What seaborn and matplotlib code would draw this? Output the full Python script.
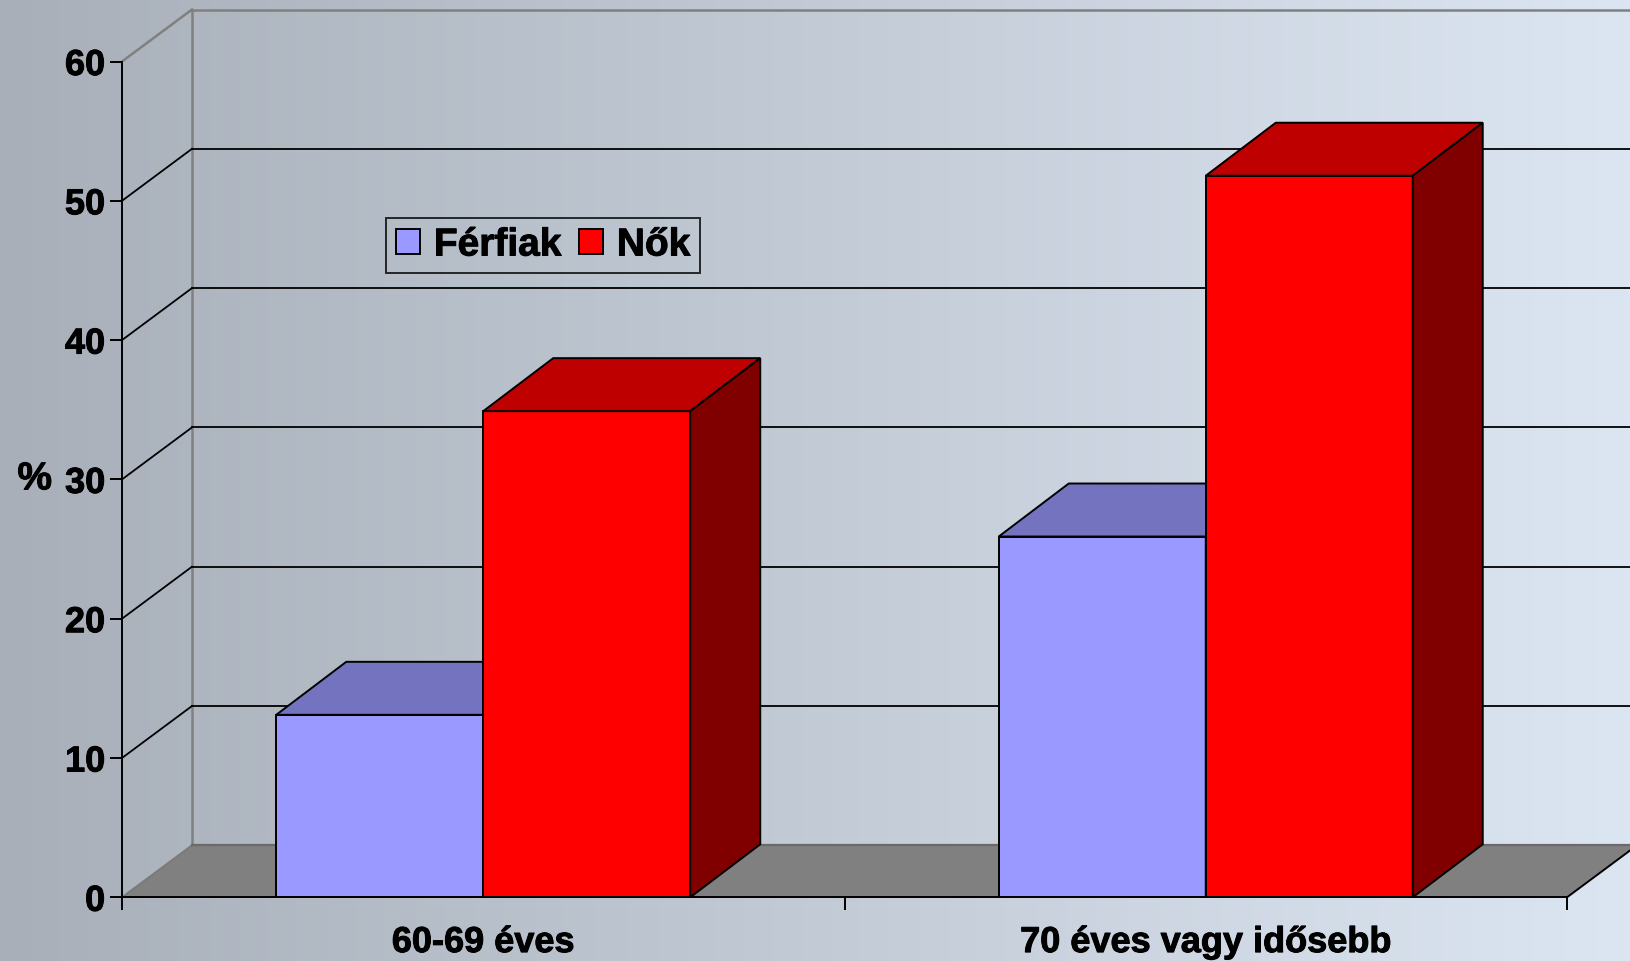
import numpy as np
import pandas as pd
import matplotlib
matplotlib.use("Agg")
import matplotlib.pyplot as plt
from matplotlib.patches import Polygon, Patch
from matplotlib.lines import Line2D
import matplotlib.colors as mcolors
import matplotlib.patheffects as pe
import seaborn as sns

# ---- data ----
categories = ["60-69 éves", "70 éves vagy idősebb"]
series = ["Férfiak", "Nők"]
ferfiak = [13.1, 25.9]
nok = [34.9, 51.8]
yticks = [0, 10, 20, 30, 40, 50, 60]

colors = {"Férfiak": "#9999FF", "Nők": "#FF0000"}

df = pd.DataFrame({
    "Korcsoport": categories * 2,
    "Nem": [series[0]] * len(categories) + [series[1]] * len(categories),
    "Érték": ferfiak + nok,
})

plt.rcParams["font.family"] = ["Liberation Sans", "DejaVu Sans"]
plt.rcParams["font.weight"] = "bold"
heavy = [pe.withStroke(linewidth=0.7, foreground="black")]

W_PX, H_PX = 1630, 962
fig = plt.figure(figsize=(W_PX / 100, H_PX / 100), dpi=100)

# background gradient
bg = fig.add_axes([0, 0, 1, 1], zorder=-10)
c0 = np.array(mcolors.to_rgb("#A8AFB9"))
c1 = np.array(mcolors.to_rgb("#DCE6F2"))
t = np.linspace(0, 1, 512)[None, :, None]
grad = c0 + (c1 - c0) * t
bg.imshow(np.repeat(grad, 2, axis=0), aspect="auto", extent=[0, 1, 0, 1])
bg.set_axis_off()

# main axes (front plane)
x_left, x_right = 122, 1567
y_bot, y_top = 898.3, 62.5
ax = fig.add_axes([x_left / W_PX, (H_PX - y_bot) / H_PX,
                   (x_right - x_left) / W_PX, (y_bot - y_top) / H_PX])
ax.patch.set_alpha(0)

sns.barplot(data=df, x="Korcsoport", y="Érték", hue="Nem", palette=colors,
            width=0.573, saturation=1, edgecolor="black", linewidth=1.4,
            errorbar=None, legend=False, ax=ax)
ax.set_xlim(-0.5, 1.5)
ax.set_ylim(0, 60)

# pixel -> data conversions
px_per_x = (x_right - x_left) / 2.0
px_per_y = (y_bot - y_top) / 60.0
wdx, wdy = 70 / px_per_x, 52 / px_per_y   # wall/floor depth
bdx, bdy = 70 / px_per_x, 53 / px_per_y   # bar depth

X0, X1 = ax.get_xlim()
gray = "#808080"

# floor
ax.add_patch(Polygon([(X0, 0), (X1, 0), (X1 + wdx, wdy), (X0 + wdx, wdy)],
                     closed=True, facecolor=gray, edgecolor="none",
                     zorder=1, clip_on=False))
ax.add_line(Line2D([X0, X0 + wdx], [0, wdy], color="#7a7a7a", lw=1.4, zorder=1.2, clip_on=False))
ax.add_line(Line2D([X0 + wdx, X1 + wdx], [wdy, wdy], color="#6a6a6a", lw=1.6, zorder=1.2, clip_on=False))
ax.add_line(Line2D([X1, X1 + wdx], [0, wdy], color="black", lw=1.4, zorder=1.2, clip_on=False))

# back wall & side wall grid
ax.add_line(Line2D([X0 + wdx, X0 + wdx], [wdy, 60 + wdy], color=gray, lw=1.8, zorder=1.1, clip_on=False))
for v in yticks[1:]:
    col = gray if v == 60 else "black"
    lw = 1.8 if v == 60 else 1.3
    ax.add_line(Line2D([X0 + wdx, X1 + wdx], [v + wdy, v + wdy], color=col, lw=lw,
                       zorder=1.1, clip_on=False))
    ax.add_line(Line2D([X0, X0 + wdx], [v, v + wdy], color=col, lw=lw,
                       zorder=1.1, clip_on=False))

# 3D bar faces
for p in list(ax.patches):
    if not isinstance(p, matplotlib.patches.Rectangle):
        continue
    h = p.get_height()
    if h <= 0:
        continue
    x0 = p.get_x()
    w = p.get_width()
    fc = np.array(mcolors.to_rgb(p.get_facecolor()))
    z = 4 if fc[0] > 0.9 and fc[2] < 0.1 else 3
    p.set_zorder(z)
    top = Polygon([(x0, h), (x0 + w, h), (x0 + w + bdx, h + bdy), (x0 + bdx, h + bdy)],
                  closed=True, facecolor=fc * 0.75, edgecolor="black", lw=1.4,
                  zorder=z, clip_on=False, joinstyle="miter")
    side = Polygon([(x0 + w, 0), (x0 + w + bdx, bdy), (x0 + w + bdx, h + bdy), (x0 + w, h)],
                   closed=True, facecolor=fc * 0.5, edgecolor="black", lw=1.4,
                   zorder=z, clip_on=False, joinstyle="miter")
    ax.add_patch(top)
    ax.add_patch(side)

# axes styling
for s in ["top", "right"]:
    ax.spines[s].set_visible(False)
for s in ["left", "bottom"]:
    ax.spines[s].set_color("black")
    ax.spines[s].set_linewidth(1.4)
    ax.spines[s].set_zorder(5)

ax.set_yticks(yticks)
ax.set_yticklabels([str(v) for v in yticks])
ax.tick_params(axis="y", length=8.6, width=1.4, pad=3.5, labelsize=26, colors="black")
ax.set_xticks([0, 1])
ax.set_xticklabels(categories)
ax.set_xticks([X0, 0.5, X1], minor=True)
ax.tick_params(axis="x", which="major", length=0, pad=20, labelsize=26)
ax.tick_params(axis="x", which="minor", length=9, width=1.4)
for lbl in ax.get_xticklabels() + ax.get_yticklabels():
    lbl.set_fontweight("bold")
    lbl.set_path_effects(heavy)
ax.set_xlabel("")
ylab = ax.set_ylabel("%", rotation=0, fontsize=28, fontweight="bold", ha="right", va="center")
ylab.set_path_effects(heavy)
ax.yaxis.set_label_coords(-0.0484, 0.5)

handles = [Patch(facecolor=colors[s], edgecolor="black", lw=1.4) for s in series]
leg = ax.legend(handles, series, loc="upper left", bbox_to_anchor=(0.183, 0.813),
                ncol=2, frameon=True, fancybox=False, edgecolor="black",
                facecolor="none", handlelength=0.62, handleheight=0.62,
                handletextpad=0.35, columnspacing=0.45, borderpad=0.25,
                borderaxespad=0, prop={"size": 28, "weight": "bold"})
leg.get_frame().set_linewidth(1.4)
for txt in leg.get_texts():
    txt.set_path_effects(heavy)
leg.set_zorder(10)

fig.savefig("out.png", dpi=100)
